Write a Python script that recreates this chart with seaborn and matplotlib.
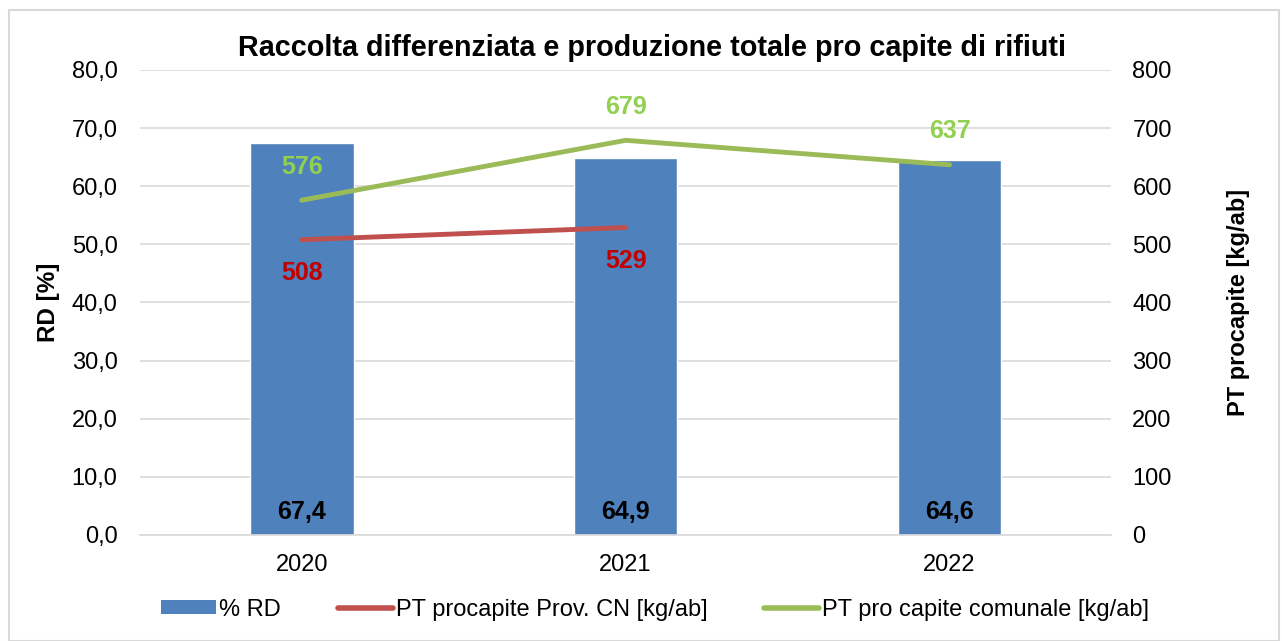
import pandas as pd
import numpy as np
import matplotlib.pyplot as plt
import seaborn as sns
from matplotlib.patches import Patch, Rectangle
from matplotlib.lines import Line2D

years = ['2020', '2021', '2022']
rd_pct = [67.4, 64.9, 64.6]
pt_prov_years = ['2020', '2021']
pt_prov = [508, 529]
pt_comune = [576, 679, 637]

sns.set_style("white")
plt.rcParams['font.family'] = ['Liberation Sans', 'DejaVu Sans']
plt.rcParams['text.color'] = 'black'
plt.rcParams['axes.labelcolor'] = 'black'
plt.rcParams['xtick.color'] = 'black'
plt.rcParams['ytick.color'] = 'black'

blue = '#4F81BD'
red = '#C0504D'
green = '#9BBB59'

fig = plt.figure(figsize=(12.82, 6.41), dpi=100)
fig.patches.append(Rectangle((0.007, 0.0), 0.991, 0.984, transform=fig.transFigure,
                             fill=False, edgecolor='#D9D9D9', linewidth=1.5))
ax = fig.add_axes([0.109, 0.1654, 0.758, 0.7254])

df_rd = pd.DataFrame({'Anno': years, 'RD': rd_pct})
sns.barplot(data=df_rd, x='Anno', y='RD', color=blue, width=0.32, saturation=1, ax=ax)
ax.set_ylim(0, 80)
ax.set_xlim(-0.5, 2.5)
ax.set_yticks(np.arange(0, 81, 10))
ax.set_yticklabels([f"{v:.1f}".replace('.', ',') for v in np.arange(0, 81, 10)])
ax.yaxis.grid(True, color='#D9D9D9', linewidth=1.2)
ax.set_axisbelow(True)
for s in ['top', 'right', 'left']:
    ax.spines[s].set_visible(False)
ax.spines['bottom'].set_color('#D9D9D9')
ax.spines['bottom'].set_linewidth(1.2)
ax.tick_params(axis='y', length=0, labelsize=17, pad=16)
ax.tick_params(axis='x', length=0, labelsize=17, pad=14)
ax.set_xlabel('')
ax.set_ylabel('RD [%]', fontsize=17.5, fontweight='bold', labelpad=8)
for i, v in enumerate(rd_pct):
    ax.text(i, 4, f"{v:.1f}".replace('.', ','), ha='center', va='center',
            fontsize=18, fontweight='bold', color='black')

ax2 = ax.twinx()
df_prov = pd.DataFrame({'Anno': pt_prov_years, 'PT': pt_prov})
df_com = pd.DataFrame({'Anno': years, 'PT': pt_comune})
x_pos = {y: i for i, y in enumerate(years)}
df_prov['x'] = df_prov['Anno'].map(x_pos)
df_com['x'] = df_com['Anno'].map(x_pos)
sns.lineplot(data=df_prov, x='x', y='PT', color=red, linewidth=3.5, ax=ax2)
sns.lineplot(data=df_com, x='x', y='PT', color=green, linewidth=3.5, ax=ax2)
ax2.set_ylim(0, 800)
ax2.set_xlim(-0.5, 2.5)
ax2.set_yticks(np.arange(0, 801, 100))
for s in ax2.spines.values():
    s.set_visible(False)
ax2.tick_params(axis='both', length=0, labelsize=17, pad=15)
ax2.set_ylabel('PT procapite [kg/ab]', fontsize=17, fontweight='bold', labelpad=40)
ax2.set_xlabel('')

for xi, v in zip(df_prov['x'], pt_prov):
    ax2.annotate(str(v), (xi, v), xytext=(0, -24), textcoords='offset points',
                 ha='center', va='center', fontsize=18, fontweight='bold', color='#C00000')
for xi, v in zip(df_com['x'], pt_comune):
    ax2.annotate(str(v), (xi, v), xytext=(0, 24), textcoords='offset points',
                 ha='center', va='center', fontsize=18, fontweight='bold', color='#92D050')

ax.set_title('Raccolta differenziata e produzione totale pro capite di rifiuti',
             fontsize=20.7, fontweight='bold', pad=10, x=0.527, color='black')

handles = [Patch(facecolor=blue, edgecolor='none'),
           Line2D([0], [0], color=red, linewidth=4),
           Line2D([0], [0], color=green, linewidth=4)]
labels = ['% RD', 'PT procapite Prov. CN [kg/ab]', 'PT pro capite comunale [kg/ab]']
fig.legend(handles, labels, loc='center', bbox_to_anchor=(0.511, 0.049), ncol=3,
           frameon=False, fontsize=17, handlelength=2.33, handleheight=0.55,
           columnspacing=2.4, handletextpad=0.13)

plt.savefig('out.png', dpi=100)
